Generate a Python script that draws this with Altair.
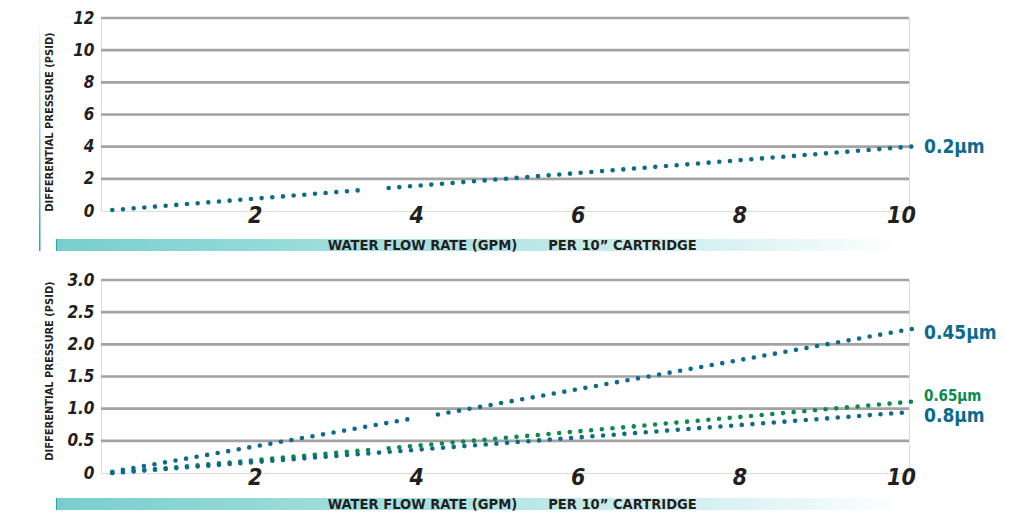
import altair as alt
import pandas as pd

# ---------- data ----------
top_x = [0.14, 3.30, 3.56, 10.04]
top_y = [0.06, 1.33, 1.43, 4.01]
top_seg = ["a", "a", "b", "b"]
top_series = ["0.2µm"] * 4

b45_x = [0.14, 3.91, 4.17, 10.04]
b45_y = [0.02, 0.86, 0.91, 2.24]
b45_seg = ["a", "a", "b", "b"]

b65_x = [0.14, 3.32, 3.56, 10.04]
b65_y = [0.00, 0.36, 0.385, 1.11]
b65_seg = ["a", "a", "b", "b"]

b80_x = [0.14, 10.04]
b80_y = [0.00, 0.95]
b80_seg = ["a", "a"]

top_grid = [2, 4, 6, 8, 10, 12]
bot_grid = [0.5, 1.0, 1.5, 2.0, 2.5, 3.0]
top_yticks = [0, 2, 4, 6, 8, 10, 12]
bot_yticks = [0, 0.5, 1.0, 1.5, 2.0, 2.5, 3.0]
x_ticks = [2, 4, 6, 8, 10]

top_labels = ["0.2µm"]
top_label_y = [4.0]
top_label_size = [19]
bot_labels = ["0.45µm", "0.65µm", "0.8µm"]
bot_label_y = [2.17, 1.20, 0.89]
bot_label_size = [19, 15, 19]

series_names = ["0.2µm", "0.45µm", "0.65µm", "0.8µm"]
series_colors = ["#0d6a8e", "#0d6a8e", "#0b8a4b", "#0d6a8e"]

FONT = "DejaVu Sans Condensed, Roboto, sans-serif"
DARK = "#231f20"
W, H = 808, 193

top_df = pd.DataFrame({"x": top_x, "y": top_y, "seg": top_seg, "series": top_series})
bot_df = pd.concat([
    pd.DataFrame({"x": b45_x, "y": b45_y, "seg": b45_seg, "series": "0.45µm"}),
    pd.DataFrame({"x": b65_x, "y": b65_y, "seg": b65_seg, "series": "0.65µm"}),
    pd.DataFrame({"x": b80_x, "y": b80_y, "seg": b80_seg, "series": "0.8µm"}),
], ignore_index=True)

color_scale = alt.Scale(domain=series_names, range=series_colors)

band_grad = alt.Gradient(
    gradient="linear", x1=0, y1=0, x2=1, y2=0,
    stops=[alt.GradientStop(offset=0, color="#78cece"),
           alt.GradientStop(offset=0.45, color="#ace2e2"),
           alt.GradientStop(offset=0.8, color="#daf2f2"),
           alt.GradientStop(offset=1, color="#ffffff")])

vline_grad = alt.Gradient(
    gradient="linear", x1=0, y1=0, x2=0, y2=1,
    stops=[alt.GradientStop(offset=0, color="#ffffff"),
           alt.GradientStop(offset=1, color="#2aa5a8")])


def panel(df, ymax, grid_vals, yticks, labels, label_y, label_size, band_y, title_y, fmt, vline):
    xs = alt.Scale(domain=[0, 10], nice=False, zero=False)
    ys = alt.Scale(domain=[0, ymax], nice=False)
    dummy = alt.Data(values=[{"a": 1}])

    yfmt = ".1f" if fmt else "d"
    xaxis = alt.Axis(
        values=x_ticks, title=None, domain=False, ticks=False, tickSize=0, grid=False,
        format="d", labelFlush=False,
        labelFont=FONT, labelFontSize=23, labelFontWeight="bold", labelFontStyle="italic",
        labelColor=DARK, labelBaseline="middle", labelPadding=4, labelOffset=-8)
    yaxis = alt.Axis(
        values=yticks, title=None, domain=False, ticks=False, tickSize=0, grid=False,
        format=yfmt, labelFlush=False,
        labelExpr="datum.value == 0 ? '0' : datum.label",
        labelFont=FONT, labelFontSize=17, labelFontWeight="bold", labelFontStyle="italic",
        labelColor=DARK, labelPadding=7)

    grid = alt.Chart(pd.DataFrame({"g": grid_vals})).mark_rule(
        color="#a3a3a3", strokeWidth=2.6
    ).encode(y=alt.Y("g:Q", scale=ys, axis=yaxis))

    lines = alt.Chart(df).mark_line(
        strokeDash=[0, 10.7], strokeCap="round", strokeWidth=4.6
    ).encode(
        x=alt.X("x:Q", scale=xs, axis=xaxis),
        y=alt.Y("y:Q", scale=ys, axis=yaxis),
        color=alt.Color("series:N", scale=color_scale, legend=None),
        detail="seg:N",
    )

    lab_df = pd.DataFrame({"label": labels, "y": label_y, "size": label_size,
                           "x": [10] * len(labels)})
    lab_df["series"] = lab_df["label"]
    texts = alt.Chart(lab_df).mark_text(
        align="left", baseline="middle", dx=15, font=FONT, fontWeight="bold"
    ).encode(
        x=alt.X("x:Q", scale=xs, axis=xaxis), y=alt.Y("y:Q", scale=ys, axis=yaxis),
        text="label:N",
        size=alt.Size("size:Q", scale=None, legend=None),
        color=alt.Color("series:N", scale=color_scale, legend=None),
    )

    band = alt.Chart(dummy).mark_rect(color=band_grad).encode(
        x=alt.value(-45), x2=alt.value(800),
        y=alt.value(band_y), y2=alt.value(band_y + 12))
    band_edge = alt.Chart(dummy).mark_rect(color="#2aa5a8").encode(
        x=alt.value(-45), x2=alt.value(-44),
        y=alt.value(band_y), y2=alt.value(band_y + 12))

    t1 = alt.Chart(dummy).mark_text(
        text="WATER FLOW RATE (GPM)", font=FONT, fontWeight="bold", fontSize=14.6,
        color=DARK, align="center", baseline="middle"
    ).encode(x=alt.value(321.5), y=alt.value(band_y + 7))
    t2 = alt.Chart(dummy).mark_text(
        text="PER 10\u201d CARTRIDGE", font=FONT, fontWeight="bold", fontSize=14.6,
        color=DARK, align="center", baseline="middle"
    ).encode(x=alt.value(521.5), y=alt.value(band_y + 7))

    ytitle = alt.Chart(dummy).mark_text(
        text="DIFFERENTIAL PRESSURE (PSID)", font=FONT, fontWeight="bold", fontSize=11,
        color=DARK, align="center", baseline="middle", angle=270
    ).encode(x=alt.value(-51.5), y=alt.value(title_y))

    layers = [grid, lines, texts, band, band_edge, t1, t2, ytitle]
    if vline:
        vl = alt.Chart(dummy).mark_rect(color=vline_grad).encode(
            x=alt.value(-62), x2=alt.value(-60.5),
            y=alt.value(-6), y2=alt.value(band_y + 12))
        layers.append(vl)
    return alt.layer(*layers).properties(width=W, height=H)


top = panel(top_df, 12, top_grid, top_yticks, top_labels, top_label_y, top_label_size,
            221, 104, False, True)
bot = panel(bot_df, 3.0, bot_grid, bot_yticks, bot_labels, bot_label_y, bot_label_size,
            218, 91, True, False)

chart = alt.vconcat(top, bot, spacing=69, bounds="flush").properties(
    padding={"left": 30, "top": 0, "right": 0, "bottom": 0}
).configure_view(stroke=None).configure(background="white")

chart.save("out.html", embed_options={"renderer": "svg", "actions": False})
